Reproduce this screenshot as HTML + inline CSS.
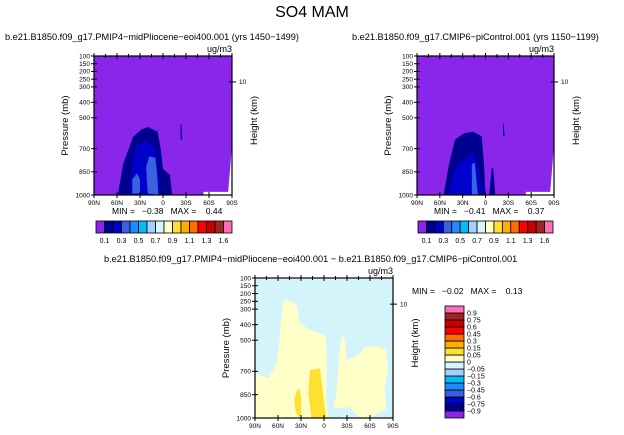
<!DOCTYPE html>
<html><head><meta charset="utf-8">
<style>
body{margin:0;background:#fff;}
svg{display:block;font-family:"Liberation Sans",sans-serif;}
.pre{white-space:pre;}
</style></head>
<body>
<svg id="chart" width="624" height="435" viewBox="0 0 624 435" xmlns="http://www.w3.org/2000/svg">
<text x="312" y="17" font-size="16" text-anchor="middle" fill="#000">SO4 MAM</text>
<text x="5" y="40" font-size="9.2">b.e21.B1850.f09_g17.PMIP4−midPliocene−eoi400.001  (yrs 1450−1499)</text>
<text x="352" y="40" font-size="9.2">b.e21.B1850.f09_g17.CMIP6−piControl.001  (yrs 1150−1199)</text>
<text x="104" y="262" font-size="9.2">b.e21.B1850.f09_g17.PMIP4−midPliocene−eoi400.001  −  b.e21.B1850.f09_g17.CMIP6−piControl.001</text>
<g id="panels"></g>
</svg>
<script>
// ---- data ----
const latTicks = [90, 60, 30, 0, -30, -60, -90];
const latTickLabels = ["90N", "60N", "30N", "0", "30S", "60S", "90S"];
const presTicks = [100, 150, 200, 250, 300, 400, 500, 700, 850, 1000];
const absColors = ["#8a26ea","#000090","#0000cc","#3a62e0","#1e8cff","#00bff8","#a3d0ff","#d4f4ff","#ffffc8","#ffe030","#ffae00","#ff6e00","#ff0000","#c80000","#a02424","#ff6eb4"];
const absLabels = ["0.1","","0.3","","0.5","","0.7","","0.9","","1.1","","1.3","","1.6"];
const diffColors = absColors.slice();
const diffLabels = ["-0.9","-0.75","-0.6","-0.45","-0.3","-0.15","-0.05","0","0.05","0.15","0.3","0.45","0.6","0.75","0.9"];
// left panel contours [lat, pressure]
const leftNavy = [[59,1000],[52,800],[39,624],[28,575],[20,560],[7,590],[3,700],[0,830],[-9,870],[-12,1000]];
const leftBlue = [[44,1000],[40,800],[35,680],[22,650],[9,710],[6,850],[4,1000]];
const leftRoyal = [[40,990],[40,900],[34,860],[30,900],[30,990]];
const leftRoyal2 = [[20,990],[22,820],[18,750],[10,760],[8,850],[6,1000]];
const leftStreak = [[-23,540],[-24,540],[-25,640],[-23,640]];
const leftWhite = [[-53,1000],[-53,980],[-85,980],[-90,680],[-90,1000]];
// right panel contours
const rightNavy = [[55,1000],[48,800],[40,640],[28,600],[16,590],[5,620],[2,800],[0,1000]];
const rightNavy2 = [[-5,1000],[-8,830],[-10,820],[-13,1000]];
const rightBlue = [[49,1000],[42,850],[36,800],[16,720],[8,850],[4,1000]];
const rightRoyal = [[18,1000],[18,800],[14,790],[10,1000]];
const rightStreak = [[-23,540],[-24,540],[-25,620],[-23,620]];
const rightWhite = [[-53,1000],[-53,980],[-85,980],[-90,680],[-90,1000]];
// difference panel contours
const diffYellow1 = [[90,1000],[90,714],[72.7,746],[61.8,649],[57.5,477],[54,261],[48,240],[35.8,272],[31.5,391],[18.4,434],[5.4,455],[-2.4,477],[-4.1,627],[-2.4,843],[-5.4,1000]];
const diffYellow2 = [[-11.9,940],[-16.3,843],[-20.6,541],[-24.1,466],[-27.5,498],[-29.3,627],[-42.3,606],[-53.1,546],[-68.3,537],[-81.3,563],[-83.5,692],[-79.1,800],[-81.3,940],[-64,993],[-46.6,1000],[-33.6,929]];
const diffGoldA = [[35,817],[32,817],[29.3,880],[30,980],[33.6,993],[37,960],[38.8,880]];
const diffGoldB = [[18.4,692],[5.4,681],[3.3,757],[-1,929],[-3.2,1000],[16.3,1000],[20.6,843]];
const leftStats = ["-0.38","0.44"];
const rightStats = ["-0.41","0.37"];
const diffStats = ["-0.02","0.13"];

const NS="http://www.w3.org/2000/svg";
const root=document.getElementById('panels');
function mk(tag,attrs,parent){const e=document.createElementNS(NS,tag);for(const k in attrs)e.setAttribute(k,attrs[k]);(parent||root).appendChild(e);return e;}

function panel(name,x0,y0,w,h,bg,polys,stats,statX,statY){
  const g=mk('g',{});
  
  
  const xs=lat=>x0+(90-lat)/180*w;
  const ys=p=>y0+(p-100)/900*h;
  const bgr=mk('rect',{x:x0,y:y0,width:w,height:h,fill:bg},g);
  
  
  polys.forEach(pp=>{
    const d=pp.pts.map((q,i)=>(i?'L':'M')+xs(q[0]).toFixed(1)+','+ys(q[1]).toFixed(1)).join('')+'Z';
    const pa=mk('path',{d:d,fill:pp.c},g);
    
    
  });
  const fr=mk('rect',{x:x0,y:y0,width:w,height:h,fill:'none',stroke:'#000','stroke-width':1.2},g);
  
  
  presTicks.forEach(p=>{
    mk('line',{x1:x0-3,x2:x0+3,y1:ys(p),y2:ys(p),stroke:'#000','stroke-width':1},g);
    const t=mk('text',{x:x0-4,y:ys(p)+2.3,'font-size':6.5,'text-anchor':'end'},g);
    t.textContent=p;
    
    
  });
  latTicks.forEach((l,i)=>{
    mk('line',{x1:xs(l),x2:xs(l),y1:y0+h-3,y2:y0+h+3,stroke:'#000','stroke-width':1},g);
    mk('line',{x1:xs(l),x2:xs(l),y1:y0-3,y2:y0+3,stroke:'#000','stroke-width':1},g);
    const t=mk('text',{x:xs(l),y:y0+h+10,'font-size':6.5,'text-anchor':'middle'},g);
    t.textContent=latTickLabels[i];
    
    
  });
  for(let l=75;l>-90;l-=15){if(l%30)mk('line',{x1:xs(l),x2:xs(l),y1:y0-2,y2:y0+2,stroke:'#000'},g);}
  const yk=ys(268);
  mk('line',{x1:x0+w-3,x2:x0+w+4,y1:yk,y2:yk,stroke:'#000'},g);
  const tk=mk('text',{x:x0+w+7,y:yk+2.3,'font-size':6.5},g);tk.textContent='10';
  
  
  const yl=mk('text',{transform:`translate(${x0-26},${y0+h/2}) rotate(-90)`,'font-size':9.5,'text-anchor':'middle'},g);
  yl.textContent='Pressure  (mb)';
  
  
  const hl=mk('text',{transform:`translate(${x0+w+25},${y0+h/2-5}) rotate(-90)`,'font-size':9.5,'text-anchor':'middle'},g);
  hl.textContent='Height  (km)';
  
  
  const u=mk('text',{x:x0+w,y:y0-4,'font-size':9,'text-anchor':'end'},g);u.textContent='ug/m3';
  
  
  const st=mk('text',{x:statX,y:statY,'font-size':8.5,'class':'pre'},g);
  st.textContent='MIN =   '+stats[0].replace('-','−')+'   MAX =    '+stats[1];
  
  
}

function hbar(name,x0,y0,w,h){
  const g=mk('g',{});
  
  
  const bw=w/absColors.length;
  absColors.forEach((c,i)=>{
    const r=mk('rect',{x:x0+i*bw,y:y0,width:bw,height:h,fill:c,stroke:'#000','stroke-width':0.8},g);
    
    
  });
  absLabels.forEach((s,i)=>{ if(!s)return;
    const t=mk('text',{x:x0+(i+1)*bw,y:y0+h+10,'font-size':7,'text-anchor':'middle'},g);t.textContent=s;
    
    
  });
}
function vbar(name,x0,y0,w,h){
  const g=mk('g',{});
  
  
  const bh=h/diffColors.length;
  diffColors.forEach((c,i)=>{
    const r=mk('rect',{x:x0,y:y0+h-(i+1)*bh,width:w,height:bh,fill:c,stroke:'#000','stroke-width':0.8},g);
    
    
  });
  diffLabels.forEach((s,i)=>{
    const t=mk('text',{x:x0+w+3,y:y0+h-(i+1)*bh+2.5,'font-size':7},g);t.textContent=s.replace('-','−');
    
    
  });
}

const C=absColors;
panel('left-panel',94,56,138,139,C[0],[{pts:leftNavy,c:C[1]},{pts:leftBlue,c:C[2]},{pts:leftRoyal,c:C[3]},{pts:leftRoyal2,c:C[3]},{pts:leftStreak,c:C[1]},{pts:leftWhite,c:'#fff'}],leftStats,112,214);
hbar('left-colorbar',96,221,136,12);
panel('right-panel',417,56,137,139,C[0],[{pts:rightNavy,c:C[1]},{pts:rightNavy2,c:C[1]},{pts:rightBlue,c:C[2]},{pts:rightRoyal,c:C[3]},{pts:rightStreak,c:C[1]},{pts:rightWhite,c:'#fff'}],rightStats,434,214);
hbar('right-colorbar',418,221,135,12);
panel('difference-panel',255,278,138,140,'#d4f4fc',[{pts:diffYellow1,c:'#ffffc8'},{pts:diffYellow2,c:'#ffffc8'},{pts:diffGoldA,c:'#ffe030'},{pts:diffGoldB,c:'#ffe030'}],diffStats,412,294);
vbar('difference-colorbar',445,306,19,112);
</script>
</body></html>
